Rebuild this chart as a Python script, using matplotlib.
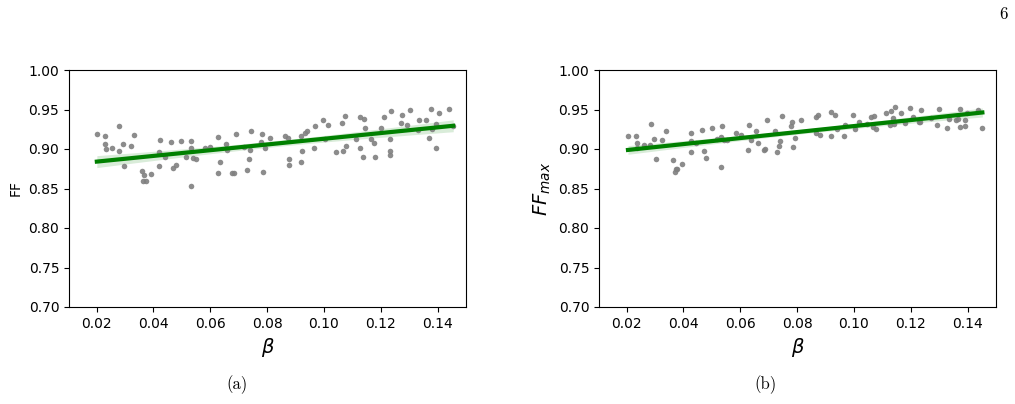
import numpy as np
import matplotlib
matplotlib.use("Agg")
import matplotlib.pyplot as plt
from matplotlib.ticker import FormatStrFormatter

# panel (a): beta vs FF
beta_a = [0.0201, 0.0228, 0.0279, 0.0229, 0.0232, 0.0256, 0.0279, 0.0292, 0.0322, 0.0332,
          0.0298, 0.0360, 0.0367, 0.0363, 0.0373, 0.0392, 0.0422, 0.0421, 0.0441, 0.0421,
          0.0461, 0.0496, 0.0468, 0.0478, 0.0533, 0.0532, 0.0513, 0.0540, 0.0550, 0.0531,
          0.0581, 0.0599, 0.0626, 0.0654, 0.0659, 0.0634, 0.0626, 0.0678, 0.0685, 0.0692,
          0.0720, 0.0739, 0.0735, 0.0728, 0.0745, 0.0781, 0.0779, 0.0792, 0.0786, 0.0812,
          0.0864, 0.0872, 0.0877, 0.0877, 0.0918, 0.0922, 0.0921, 0.0933, 0.0942, 0.0968,
          0.0965, 0.0997, 0.1005, 0.1016, 0.1042, 0.1065, 0.1075, 0.1068, 0.1078, 0.1114,
          0.1128, 0.1141, 0.1145, 0.1128, 0.1139, 0.1165, 0.1175, 0.1180, 0.1200, 0.1213,
          0.1237, 0.1234, 0.1234, 0.1231, 0.1270, 0.1276, 0.1294, 0.1302, 0.1335, 0.1332,
          0.1360, 0.1376, 0.1379, 0.1369, 0.1395, 0.1405, 0.1396, 0.1439, 0.1455]
ff = [0.9186, 0.9161, 0.9291, 0.9063, 0.8996, 0.9009, 0.8975, 0.9063, 0.9034, 0.9173,
      0.8785, 0.8718, 0.8667, 0.8595, 0.8595, 0.8687, 0.9114, 0.8958, 0.8895, 0.8785,
      0.9085, 0.9101, 0.8763, 0.8797, 0.9101, 0.9016, 0.8899, 0.8886, 0.8873, 0.8528,
      0.9009, 0.9029, 0.9148, 0.9067, 0.8984, 0.8839, 0.8692, 0.8692, 0.8692, 0.9194,
      0.9022, 0.8984, 0.8877, 0.8730, 0.9232, 0.9194, 0.9085, 0.9009, 0.8709, 0.9135,
      0.9161, 0.9135, 0.8870, 0.8801, 0.8835, 0.8975, 0.9161, 0.9206, 0.9224, 0.9287,
      0.9016, 0.9367, 0.9123, 0.9304, 0.8958, 0.9329, 0.9418, 0.8971, 0.9042, 0.9127,
      0.9401, 0.9376, 0.9270, 0.9016, 0.8895, 0.9123, 0.9080, 0.8903, 0.9270, 0.9409,
      0.9477, 0.9130, 0.8978, 0.8928, 0.9333, 0.9427, 0.9308, 0.9497, 0.9371, 0.9237,
      0.9371, 0.9506, 0.9249, 0.9143, 0.9313, 0.9459, 0.9009, 0.9506, 0.9291]

# panel (b): beta vs FF_max
beta_b = [0.0205, 0.0232, 0.0285, 0.0235, 0.0238, 0.0262, 0.0284, 0.0295, 0.0326, 0.0338,
          0.0302, 0.0363, 0.0375, 0.0370, 0.0378, 0.0395, 0.0427, 0.0426, 0.0446, 0.0426,
          0.0464, 0.0500, 0.0474, 0.0479, 0.0536, 0.0533, 0.0517, 0.0543, 0.0554, 0.0534,
          0.0585, 0.0602, 0.0630, 0.0656, 0.0638, 0.0661, 0.0627, 0.0682, 0.0688, 0.0694,
          0.0721, 0.0741, 0.0738, 0.0730, 0.0747, 0.0782, 0.0780, 0.0794, 0.0787, 0.0814,
          0.0867, 0.0875, 0.0867, 0.0879, 0.0921, 0.0935, 0.0921, 0.0941, 0.0967, 0.0965,
          0.0997, 0.1005, 0.1017, 0.1061, 0.1072, 0.1066, 0.1078, 0.1046, 0.1113, 0.1131,
          0.1145, 0.1139, 0.1126, 0.1140, 0.1164, 0.1179, 0.1199, 0.1209, 0.1228, 0.1233,
          0.1235, 0.1270, 0.1293, 0.1300, 0.1328, 0.1334, 0.1359, 0.1366, 0.1373, 0.1374,
          0.1392, 0.1392, 0.1399, 0.1436, 0.1452]
ff_max = [0.9168, 0.9168, 0.9316, 0.9072, 0.9016, 0.9047, 0.9051, 0.9123, 0.9114, 0.9224,
          0.8873, 0.8857, 0.8747, 0.8709, 0.8743, 0.8814, 0.9206, 0.9105, 0.9076, 0.8958,
          0.9237, 0.9270, 0.8971, 0.8886, 0.9295, 0.9152, 0.9123, 0.9118, 0.9114, 0.8776,
          0.9203, 0.9181, 0.9308, 0.9224, 0.9114, 0.9072, 0.8984, 0.8987, 0.9004, 0.9371,
          0.9232, 0.9101, 0.9042, 0.8958, 0.9414, 0.9338, 0.9287, 0.9143, 0.9022, 0.9371,
          0.9409, 0.9434, 0.9206, 0.9177, 0.9465, 0.9434, 0.9168, 0.9257, 0.9308, 0.9168,
          0.9427, 0.9249, 0.9338, 0.9401, 0.9414, 0.9275, 0.9249, 0.9313, 0.9452, 0.9477,
          0.9535, 0.9392, 0.9300, 0.9316, 0.9452, 0.9325, 0.9523, 0.9401, 0.9346, 0.9338,
          0.9490, 0.9396, 0.9308, 0.9503, 0.9270, 0.9376, 0.9367, 0.9376, 0.9510, 0.9275,
          0.9363, 0.9295, 0.9452, 0.9490, 0.9270]

x_ticks = [0.02, 0.04, 0.06, 0.08, 0.10, 0.12, 0.14]
y_ticks = [0.70, 0.75, 0.80, 0.85, 0.90, 0.95, 1.00]


def reg_panel(ax, x, y):
    x = np.asarray(x)
    y = np.asarray(y)
    ax.scatter(x, y, s=16, color="#808080", alpha=0.9, linewidths=0, zorder=2)
    # linear fit with 95% confidence band
    p = np.polyfit(x, y, 1)
    xs = np.linspace(x.min(), x.max(), 100)
    yfit = np.polyval(p, xs)
    n = len(x)
    resid = y - np.polyval(p, x)
    s_err = np.sqrt(np.sum(resid**2) / (n - 2))
    ci = 1.98 * s_err * np.sqrt(1 / n + (xs - x.mean())**2 / np.sum((x - x.mean())**2))
    ax.fill_between(xs, yfit - ci, yfit + ci, color="green", alpha=0.15, lw=0, zorder=1)
    ax.plot(xs, yfit, color="green", lw=3, zorder=3)
    ax.set_xlim(0.0103, 0.150)
    ax.set_ylim(0.70, 1.00)
    ax.set_xticks(x_ticks)
    ax.set_yticks(y_ticks)
    ax.yaxis.set_major_formatter(FormatStrFormatter("%.2f"))
    ax.tick_params(labelsize=10)


fig = plt.figure(figsize=(10.15, 4.04), dpi=100)
ax1 = fig.add_axes([69 / 1015, 97 / 404, 397 / 1015, 237 / 404])
ax2 = fig.add_axes([599 / 1015, 97 / 404, 397 / 1015, 237 / 404])

reg_panel(ax1, beta_a, ff)
ax1.set_xlabel(r"$\beta$", fontsize=14)
ax1.set_ylabel("FF", fontsize=10)

reg_panel(ax2, beta_b, ff_max)
ax2.set_xlabel(r"$\beta$", fontsize=14)
ax2.set_ylabel(r"$FF_{max}$", fontsize=14)

fig.text(237 / 1015, 1 - 385 / 404, "(a)", ha="center", va="center", fontsize=12, family="cmr10")
fig.text(766 / 1015, 1 - 385 / 404, "(b)", ha="center", va="center", fontsize=12, family="cmr10")
fig.text(1003 / 1015, 1 - 14 / 404, "6", ha="center", va="center", fontsize=12, family="cmr10")

fig.savefig("out.png", dpi=100)
